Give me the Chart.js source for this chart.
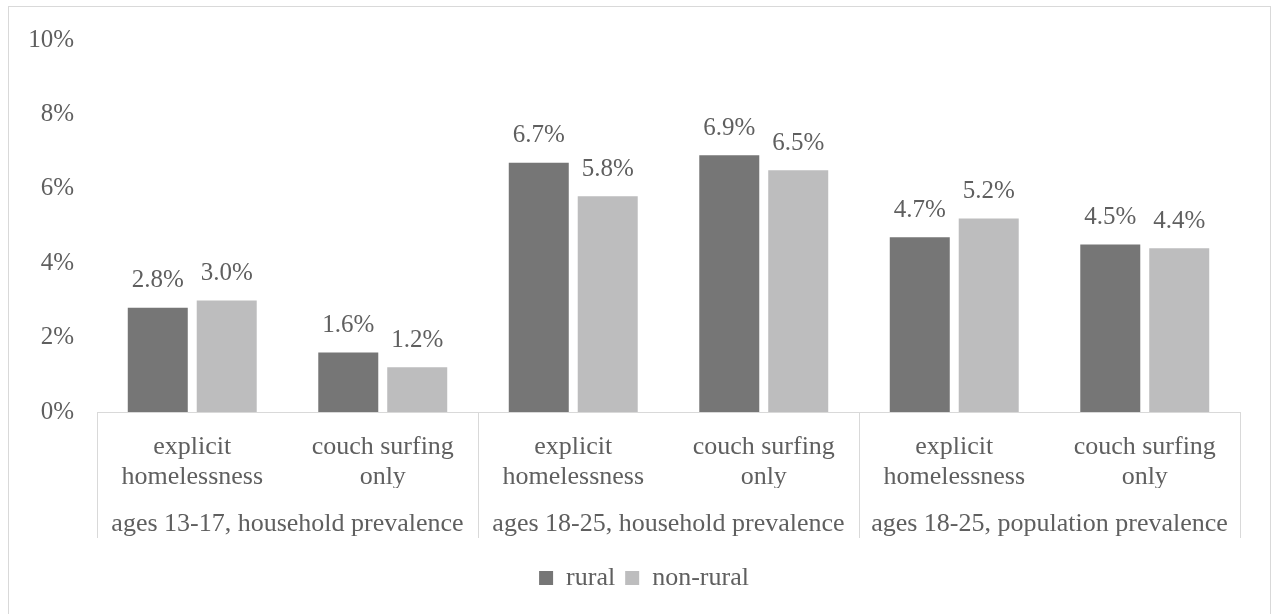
<!DOCTYPE html>
<html>
<head>
<meta charset="utf-8">
<script src="https://cdn.jsdelivr.net/npm/chart.js@4.4.1/dist/chart.umd.min.js"></script>
<style>
  html,body{margin:0;padding:0;background:#fff}
  #wrap{width:1277px;height:614px;position:relative}
</style>
</head>
<body>
<div id="wrap"><canvas id="c" width="1277" height="614"></canvas></div>
<script>
// data
const categories = [['explicit','homelessness'],['couch surfing','only'],['explicit','homelessness'],['couch surfing','only'],['explicit','homelessness'],['couch surfing','only']];
const groups = ['ages 13-17, household prevalence','ages 18-25, household prevalence','ages 18-25, population prevalence'];
const rural = [2.8, 1.6, 6.7, 6.9, 4.7, 4.5];
const nonRural = [3.0, 1.2, 5.8, 6.5, 5.2, 4.4];
const yTicks = [0, 2, 4, 6, 8, 10];

const FONT = 'Liberation Serif, Times New Roman, serif';
const TXT = '#5f5f5f';
const LINE = '#d9d9d9';

// outer frame + group separators
const frame = {
  id: 'frame',
  beforeDraw(chart) {
    const ctx = chart.ctx;
    ctx.save();
    ctx.fillStyle = '#fff';
    ctx.fillRect(0, 0, chart.width, chart.height);
    ctx.strokeStyle = LINE; ctx.lineWidth = 1;
    ctx.strokeRect(8.5, 6.5, 1262, 620);
    ctx.restore();
  },
  afterLayout(chart) {
    // legend sits a bit right of canvas centre in the original
    const lg = chart.legend;
    if (lg) { lg.left += 24; lg.right += 24; }
  },
  afterDraw(chart) {
    const ctx = chart.ctx, a = chart.chartArea;
    const step = (a.right - a.left) / categories.length;
    ctx.save();
    ctx.strokeStyle = LINE; ctx.lineWidth = 1;
    for (let i = 0; i <= categories.length; i += 2) {
      const px = Math.round(a.left + i * step) + 0.5;
      ctx.beginPath(); ctx.moveTo(px, a.bottom); ctx.lineTo(px, a.bottom + 126); ctx.stroke();
    }
    ctx.restore();
  }
};

// value labels above bars
const valueLabels = {
  id: 'valueLabels',
  afterDatasetsDraw(chart) {
    const ctx = chart.ctx;
    ctx.save();
    ctx.font = '25px ' + FONT; ctx.fillStyle = TXT;
    ctx.textAlign = 'center'; ctx.textBaseline = 'middle';
    chart.data.datasets.forEach((ds, di) => {
      chart.getDatasetMeta(di).data.forEach((bar, i) => {
        ctx.fillText(ds.data[i].toFixed(1) + '%', bar.x, bar.y - 27);
      });
    });
    ctx.restore();
  }
};

new Chart(document.getElementById('c'), {
  type: 'bar',
  data: {
    labels: categories,
    datasets: [
      {label: 'rural', data: rural, backgroundColor: '#767676', categoryPercentage: 0.724, barPercentage: 0.87},
      {label: 'non-rural', data: nonRural, backgroundColor: '#bdbdbe', categoryPercentage: 0.724, barPercentage: 0.87}
    ]
  },
  options: {
    responsive: false, animation: false, devicePixelRatio: 1,
    layout: {padding: {left: 0, right: 37, top: 40, bottom: 13}},
    plugins: {
      tooltip: {enabled: false},
      legend: {
        position: 'bottom',
        labels: {boxWidth: 14, boxHeight: 14, padding: 10, color: TXT, font: {family: FONT, size: 26}}
      }
    },
    scales: {
      y: {
        min: 0, max: 10,
        afterBuildTicks: s => { s.ticks = yTicks.map(v => ({value: v})); },
        afterFit: s => { s.width = 97; },
        grid: {display: false, drawTicks: false},
        border: {display: false},
        ticks: {padding: 23, color: TXT, font: {family: FONT, size: 25}, callback: v => v + '%'}
      },
      x: {
        afterFit: s => { s.height = 76; },
        grid: {display: false, drawTicks: false},
        border: {display: true, color: LINE},
        ticks: {padding: 21, color: TXT, maxRotation: 0, autoSkip: false, font: {family: FONT, size: 26, lineHeight: 1.12}}
      },
      x2: {
        type: 'category', labels: groups, position: 'bottom',
        afterFit: s => { s.height = 67; },
        grid: {display: false, drawTicks: false}, border: {display: false},
        ticks: {padding: 22, color: TXT, maxRotation: 0, autoSkip: false, font: {family: FONT, size: 26, lineHeight: 1.12}}
      }
    }
  },
  plugins: [frame, valueLabels]
});
</script>
</body>
</html>
